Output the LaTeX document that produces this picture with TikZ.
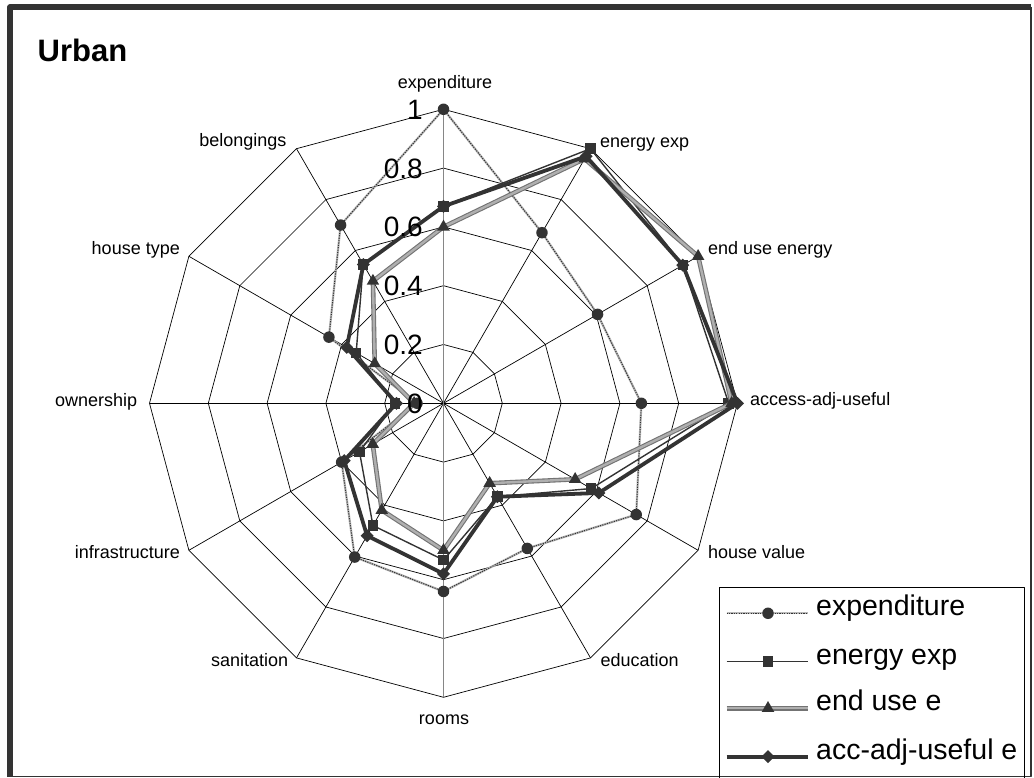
\documentclass[tikz,border=0pt]{standalone}
\usepackage{fontspec}
\setmainfont{Liberation Sans}
\usetikzlibrary{shapes.geometric}
\definecolor{cInk}{RGB}{51,51,51}
\definecolor{cAxis}{RGB}{134,134,134}
\definecolor{cBand}{RGB}{115,115,115}
\definecolor{cBandIn}{RGB}{175,175,175}
\newcommand{\Rad}{294}

\begin{document}
\begin{tikzpicture}[
  x=1pt, y=1pt, line join=round, color=cInk,
  grid/.style ={line width=0.7pt, draw=black},
  vaxis/.style={line width=1pt, draw=cAxis},
  alab/.style ={font=\fontsize{18}{21}\selectfont, inner sep=0pt, text=black},
  slab/.style ={font=\fontsize{28}{32}\selectfont, anchor=base east, inner sep=0pt, text=black},
  glab/.style ={font=\fontsize{28.5}{32}\selectfont, anchor=mid west, inner sep=0pt, text=black},
  lexp/.style ={line width=2.2pt, draw=gray!55,
                postaction={draw=cInk, line width=1pt, dash pattern=on 1.2pt off 1.2pt}},
  lenr/.style ={line width=1.4pt, draw=cInk},
  lend/.style ={line width=4.6pt, draw=cBand, postaction={draw=cBandIn, line width=2.4pt}},
  lacc/.style ={line width=3.8pt, draw=cInk},
  mk/.style   ={fill=cInk, draw=none, inner sep=0pt, outer sep=0pt},
  mcir/.style ={mk, circle, minimum size=11.5pt},
  msqr/.style ={mk, rectangle, minimum size=10.5pt},
  mtri/.style ={mk, regular polygon, regular polygon sides=3, minimum size=14.5pt},
  mdia/.style ={mk, diamond, minimum size=13pt},
]
\useasboundingbox (0,0) rectangle (1034,778);

% frame: heavy on the left and top, hairline on the right and bottom
\draw[line width=6pt] (10,1.3) -- (10,770.5) -- (1031,770.5);
\draw[line width=1.2pt] (1031,770.5) -- (1031,1.3) -- (10,1.3);

\node[font=\bfseries\fontsize{31}{36}\selectfont, anchor=base west, inner sep=0pt, text=black]
  (title) at (37.5,716.3) {Urban};

\begin{scope}[shift={(443.5,374.7)}]

% ----- web: rings every 0.2 and twelve spokes ---------------------------
\foreach \r in {0.2,0.4,0.6,0.8,1.0}
  \draw[grid] (90:{\r*\Rad}) \foreach \a in {60,30,...,-240} { -- (\a:{\r*\Rad}) } -- cycle;
\foreach \i in {1,2,3,4,5,7,8,9,10,11}
  \draw[grid] (0,0) -- ({90-30*\i}:\Rad);
\draw[vaxis] (90:\Rad) -- (-90:\Rad);

% ----- data, clockwise from expenditure ---------------------------------
\foreach \v [count=\i from 0] in {1.00,0.67,0.605,0.673,0.757,0.57,0.64,0.604,0.40,0.09,0.45,0.70}
  \coordinate (ex\i) at ({90-30*\i}:{\v*\Rad});
\foreach \v [count=\i from 0] in {0.67,1.00,0.94,0.97,0.58,0.367,0.533,0.48,0.33,0.165,0.343,0.546}
  \coordinate (en\i) at ({90-30*\i}:{\v*\Rad});
\foreach \v [count=\i from 0] in {0.60,0.96,1.00,0.98,0.517,0.314,0.50,0.42,0.278,0.10,0.27,0.48}
  \coordinate (eu\i) at ({90-30*\i}:{\v*\Rad});
\foreach \v [count=\i from 0] in {0.67,0.97,0.94,1.00,0.61,0.367,0.58,0.52,0.39,0.16,0.38,0.545}
  \coordinate (ac\i) at ({90-30*\i}:{\v*\Rad});

% ----- the four series --------------------------------------------------
\draw[lexp] (ex0) \foreach \i in {1,...,11} { -- (ex\i) } -- cycle;
\foreach \i in {0,...,11} \node[mcir] (mex\i) at (ex\i) {};

\draw[lenr] (en0) \foreach \i in {1,...,11} { -- (en\i) } -- cycle;
\foreach \i in {0,...,11} \node[msqr] (men\i) at (en\i) {};

\draw[lend] (eu0) \foreach \i in {1,...,11} { -- (eu\i) } -- cycle;
\foreach \i in {0,...,11} \node[mtri] (meu\i) at (eu\i) {};

\draw[lacc] (ac0) \foreach \i in {1,...,11} { -- (ac\i) } -- cycle;
\foreach \i in {0,...,11} \node[mdia] (mac\i) at (ac\i) {};

% ----- scale labels on the vertical axis --------------------------------
\foreach \r/\t [count=\k] in {0/0,0.2/0.2,0.4/0.4,0.6/0.6,0.8/0.8,1/1}
  \node[slab] (s\k) at (-20.5,{\r*\Rad-10}) {\t};

\end{scope}

% ----- axis names -------------------------------------------------------
\node[alab, anchor=mid]      (lExp)  at (445,692)    {expenditure};
\node[alab, anchor=mid west] (lEnr)  at (600,633)    {energy exp};
\node[alab, anchor=mid west] (lEnd)  at (708,525.7)  {end use energy};
\node[alab, anchor=mid west] (lAcc)  at (750,374.7)  {access-adj-useful};
\node[alab, anchor=mid west] (lHval) at (708,222.3)  {house value};
\node[alab, anchor=mid west] (lEdu)  at (600.5,114)  {education};
\node[alab, anchor=mid]      (lRoom) at (444,56.3)   {rooms};
\node[alab, anchor=mid east] (lSan)  at (288.3,114)  {sanitation};
\node[alab, anchor=mid east] (lInf)  at (180,222.3)  {infrastructure};
\node[alab, anchor=mid east] (lOwn)  at (137.3,374)  {ownership};
\node[alab, anchor=mid east] (lHtyp) at (180,526.3)  {house type};
\node[alab, anchor=mid east] (lBel)  at (286.7,634)  {belongings};

% ----- legend -----------------------------------------------------------
\draw[line width=0.8pt, draw=black] (719.7,0) -- (719.7,190.7) -- (1024.5,190.7) -- (1024.5,0);
\foreach \y/\s/\m/\t [count=\k] in {164.7/lexp/mcir/expenditure,
                                   116.3/lenr/msqr/energy exp,
                                   69.7/lend/mtri/end use e,
                                   21.3/lacc/mdia/acc-adj-useful e} {
  \coordinate (ka\k) at (726.5,\y);
  \coordinate (kb\k) at (808,\y);
  \draw[\s] (ka\k) -- (kb\k);
  \node[\m] (km\k) at (768,\y) {};
  \node[glab] (kt\k) at (816,\y) {\t};
}

\end{tikzpicture}
\end{document}
